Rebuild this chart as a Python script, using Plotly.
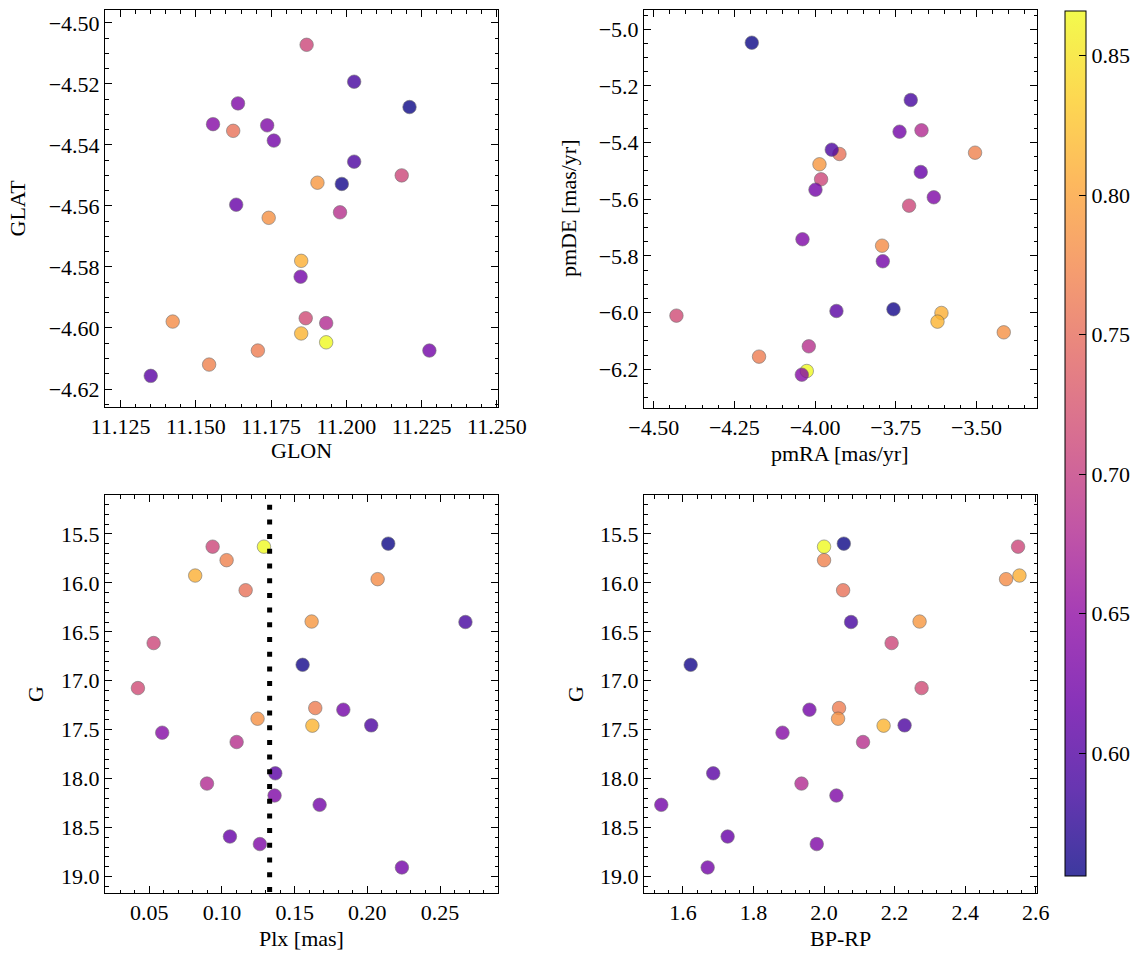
import plotly.graph_objects as go

# ---- data (one entry per star) ----
glon = [11.2210, 11.1933, 11.1868, 11.1544, 11.1850, 11.1423, 11.1624, 11.1904, 11.2026, 11.2184,
        11.1985, 11.1865, 11.1706, 11.1759, 11.1742, 11.1850, 11.2026, 11.1557, 11.1979, 11.1350,
        11.1933, 11.1640, 11.2276, 11.1634, 11.1737, 11.1848]
glat = [-4.5276, -4.6047, -4.5072, -4.6120, -4.5780, -4.5979, -4.5354, -4.5524, -4.5193, -4.5500,
        -4.5528, -4.5968, -4.6074, -4.5386, -4.5639, -4.6018, -4.5455, -4.5332, -4.5621, -4.6157,
        -4.5984, -4.5264, -4.6074, -4.5596, -4.5336, -4.5832]
pmra = [-4.196, -4.0257, -3.9814, -3.5044, -3.6085, -3.7924, -3.9245, -3.9864, -3.7036, -3.7088,
        -3.7571, -4.4295, -4.1736, -3.7383, -3.4155, -3.6208, -3.9483, -4.0411, -4.0195, -3.9338,
        -3.6703, -3.6323, -3.9988, -3.6726, -4.0390, -3.7902]
pmde = [-5.0473, -6.206, -5.5294, -5.4355, -6.0012, -5.7637, -5.4401, -5.4764, -5.2495, -5.6225,
        -5.9882, -6.0106, -6.1553, -5.3614, -6.0695, -6.0318, -5.4249, -6.219, -6.1189, -5.9942,
        -5.3565, -5.5929, -5.5661, -5.5036, -5.7411, -5.8188]
plx = [0.2144, 0.1289, 0.0936, 0.1032, 0.0816, 0.2071, 0.1163, 0.1617, 0.2675, 0.0530,
       0.1555, 0.0422, 0.1642, 0.1835, 0.1245, 0.1622, 0.2027, 0.0589, 0.1101, 0.1367,
       0.0897, 0.1362, 0.1672, 0.1055, 0.1261, 0.2238]
gmag = [15.599, 15.630, 15.630, 15.768, 15.925, 15.962, 16.075, 16.395, 16.400, 16.615,
        16.837, 17.075, 17.279, 17.296, 17.388, 17.459, 17.456, 17.531, 17.626, 17.946,
        18.051, 18.173, 18.268, 18.592, 18.669, 18.908]
bprp = [2.056, 2.000, 2.550, 2.000, 2.554, 2.516, 2.054, 2.2708, 2.0765, 2.1915,
        1.6218, 2.2765, 2.0425, 1.9586, 2.0397, 2.1688, 2.2283, 1.8822, 2.1105, 1.6858,
        1.936, 2.035, 1.5385, 1.7266, 1.9793, 1.670]
prob = [0.556, 0.866, 0.71, 0.77, 0.81, 0.78, 0.755, 0.79, 0.59, 0.71,
        0.56, 0.715, 0.765, 0.625, 0.785, 0.815, 0.595, 0.64, 0.685, 0.605,
        0.68, 0.635, 0.625, 0.615, 0.635, 0.625]
plx_ref = 0.1328
cbar_ticks = [0.60, 0.65, 0.70, 0.75, 0.80, 0.85]

W, H = 1144, 960
FONT = "Liberation Serif"
FS = 22

plasma = ["#0d0887", "#41049d", "#6a00a8", "#8f0da4", "#b12a90", "#cc4778",
          "#e16462", "#f2844b", "#fca636", "#fcce25", "#f0f921"]
ALPHA = 0.8


def blend(hx):
    r, g, b = int(hx[1:3], 16), int(hx[3:5], 16), int(hx[5:7], 16)
    f = lambda c: round(ALPHA * c + (1 - ALPHA) * 255)
    return f"rgb({f(r)},{f(g)},{f(b)})"


cs = [[i / 10, c] for i, c in enumerate(plasma)]
cs_blend = [[i / 10, blend(c)] for i, c in enumerate(plasma)]
cmin, cmax = min(prob), max(prob)

# panel geometry in px
px_x = {1: (105, 498), 2: (644, 1037), 3: (105, 498), 4: (644, 1037)}
px_y = {1: (10, 407), 2: (10, 408), 3: (495, 893), 4: (495, 893)}

fig = go.Figure()

panels = [
    (1, glon, glat), (2, pmra, pmde), (3, plx, gmag), (4, bprp, gmag)
]
for k, xs, ys in panels:
    fig.add_trace(go.Scatter(
        x=xs, y=ys, mode="markers",
        xaxis="x" if k == 1 else f"x{k}", yaxis="y" if k == 1 else f"y{k}",
        marker=dict(size=13.5, color=prob, colorscale=cs, cmin=cmin, cmax=cmax,
                    opacity=ALPHA, line=dict(width=0.6, color="#505050"),
                    showscale=False),
        showlegend=False, hoverinfo="x+y"))

# colourbar trace (invisible markers, alpha-blended scale as in the reference)
cb_top, cb_bot = 11, 876
fig.add_trace(go.Scatter(
    x=glon, y=glat, mode="markers", xaxis="x", yaxis="y",
    marker=dict(size=1, color=prob, colorscale=cs_blend, cmin=cmin, cmax=cmax, opacity=0,
                showscale=True,
                colorbar=dict(x=1065 / W, xanchor="left", xpad=0, thickness=21,
                              len=(cb_bot - cb_top) / H, lenmode="fraction",
                              y=1 - cb_top / H, yanchor="top", ypad=0,
                              outlinewidth=1, outlinecolor="black",
                              ticks="inside", ticklen=7, tickcolor="black", tickwidth=1,
                              tickvals=cbar_ticks, ticktext=[f"{v:.2f}" for v in cbar_ticks],
                              tickfont=dict(family=FONT, size=FS, color="black"))),
    showlegend=False, hoverinfo="skip"))


def ax_common(major, minor, fmt, rng):
    return dict(range=rng, showgrid=False, zeroline=False, showline=True, linecolor="black",
                linewidth=1, mirror="allticks", ticks="inside", ticklen=7, tickwidth=1,
                tickcolor="black", dtick=major, tickformat=fmt, automargin=False,
                minor=dict(ticks="inside", ticklen=3.5, dtick=minor, tickcolor="black",
                           tickwidth=1, showgrid=False),
                tickfont=dict(family=FONT, size=FS, color="black"))


axes_spec = {
    1: (dict(major=0.025, minor=0.005, fmt=".3f", rng=[11.1198, 11.2504]),
        dict(major=0.02, minor=0.005, fmt=".2f", rng=[-4.6259, -4.4958])),
    2: (dict(major=0.25, minor=0.05, fmt=".2f", rng=[-4.530, -3.3125]),
        dict(major=0.2, minor=0.05, fmt=".1f", rng=[-6.3366, -4.9319])),
    3: (dict(major=0.05, minor=0.01, fmt=".2f", rng=[0.01955, 0.2899]),
        dict(major=0.5, minor=0.1, fmt=".1f", rng=[19.169, 15.102])),
    4: (dict(major=0.2, minor=0.04, fmt=".1f", rng=[1.4895, 2.6037]),
        dict(major=0.5, minor=0.1, fmt=".1f", rng=[19.169, 15.102])),
}

layout = dict(template="none", width=W, height=H, margin=dict(l=0, r=0, t=0, b=0, pad=0),
              paper_bgcolor="white", plot_bgcolor="white",
              font=dict(family=FONT, size=FS, color="black"))
for k, (xs, ys) in axes_spec.items():
    xn = "xaxis" if k == 1 else f"xaxis{k}"
    yn = "yaxis" if k == 1 else f"yaxis{k}"
    xa = ax_common(**xs)
    ya = ax_common(**ys)
    xa["domain"] = [px_x[k][0] / W, px_x[k][1] / W]
    ya["domain"] = [1 - px_y[k][1] / H, 1 - px_y[k][0] / H]
    xa["anchor"] = "y" if k == 1 else f"y{k}"
    ya["anchor"] = "x" if k == 1 else f"x{k}"
    layout[xn] = xa
    layout[yn] = ya
fig.update_layout(**layout)

# dotted reference line in Plx panel
fig.add_shape(type="line", xref="x3", yref="y3 domain", x0=plx_ref, x1=plx_ref, y0=1, y1=0,
              line=dict(color="black", width=5, dash="0px,9.7px,5px,0px"), layer="above")

# colourbar minor ticks
span = cmax - cmin
for i in range(56, 87):
    v = i / 100
    if i % 5 == 0 or v < cmin or v > cmax:
        continue
    yp = (1 - cb_bot / H) + (v - cmin) / span * ((cb_bot - cb_top) / H)
    fig.add_shape(type="line", xref="paper", yref="paper", x0=(1086 - 3.5) / W, x1=1086 / W,
                  y0=yp, y1=yp, line=dict(color="black", width=1))

# axis titles
titles = [
    ("GLON", 301.5, 451, 0), ("GLAT", 17, 208.5, -90),
    ("pmRA [mas/yr]", 840, 453, 0), ("pmDE [mas/yr]", 568, 209, -90),
    ("Plx [mas]", 301.5, 938, 0), ("G", 35, 694, -90),
    ("BP-RP", 840, 938, 0), ("G", 575, 694, -90),
]
for txt, x, y, ang in titles:
    fig.add_annotation(text=txt, x=x / W, y=1 - y / H, xref="paper", yref="paper",
                       showarrow=False, textangle=ang, xanchor="center", yanchor="middle",
                       font=dict(family=FONT, size=FS, color="black"))

fig.write_html("out.html", config={"displayModeBar": False},
               post_script="document.body.style.margin='0px';document.body.style.overflow='hidden';")
